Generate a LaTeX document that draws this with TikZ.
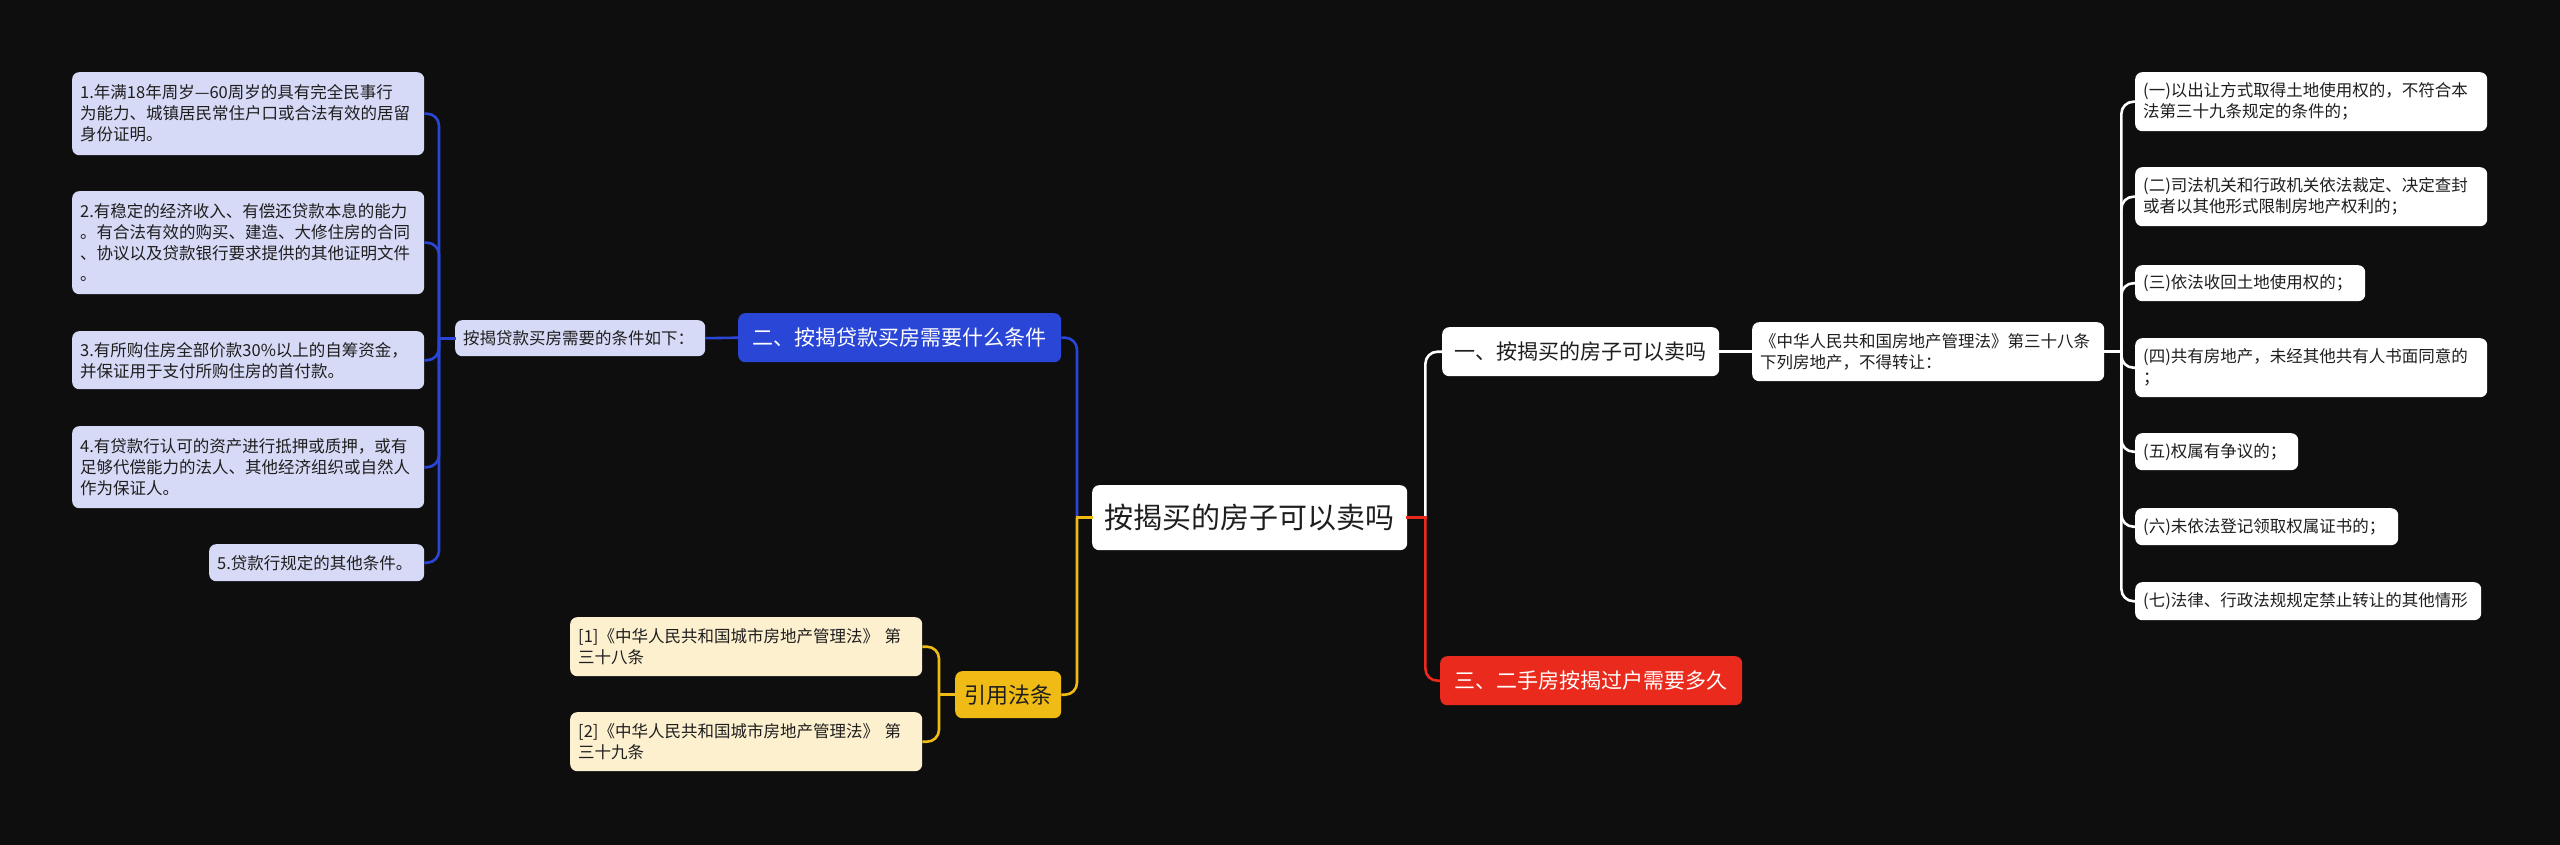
\documentclass[tikz,border=0pt]{standalone}
\usepackage{fontspec}
\usetikzlibrary{calc}
\setmainfont{Noto Sans CJK SC}
\definecolor{bg}{RGB}{14,14,14}
\definecolor{lav}{RGB}{215,218,246}
\definecolor{bluen}{RGB}{42,70,214}
\definecolor{yel}{RGB}{240,187,20}
\definecolor{cream}{RGB}{253,240,207}
\definecolor{redn}{RGB}{234,42,28}
\definecolor{txt}{RGB}{30,30,30}
\tikzset{
  base/.style={rounded corners=7pt, inner ysep=0pt, inner xsep=8pt, anchor=north west, align=left, font=\fontsize{16.5}{21}\selectfont, text=txt},
  lavbox/.style={base, fill=lav},
  creambox/.style={base, fill=cream},
  whitebox/.style={base, fill=white},
  mainbox/.style={rounded corners=7pt, inner sep=0pt, anchor=north west, align=center},
  conn/.style={line width=2.6pt},
  stub/.style={conn, line cap=rect},
  arm/.style={conn, rounded corners=12pt},
  cb/.style={draw=bluen},
  cyl/.style={draw=yel},
  cw/.style={draw=white},
  cr/.style={draw=redn},
}
\begin{document}
\begin{tikzpicture}[x=1pt,y=-1pt]
\fill[bg] (0,0) rectangle (2560,845);
\useasboundingbox (0,0) rectangle (2560,845);

% root
\node[mainbox, fill=white, text=txt, minimum width=315pt, minimum height=65pt, font=\fontsize{29}{34}\selectfont] (root) at (1092,485) {按揭买的房子可以卖吗};

% main branches
\node[mainbox, fill=bluen, text=white, minimum width=323pt, minimum height=49pt, font=\fontsize{21}{25}\selectfont] (blue) at (738,313) {二、按揭贷款买房需要什么条件};
\node[mainbox, fill=yel, text=txt, minimum width=106pt, minimum height=47pt, font=\fontsize{22}{26}\selectfont] (yl) at (955,671) {引用法条};
\node[mainbox, fill=white, text=txt, minimum width=277pt, minimum height=49pt, font=\fontsize{21}{25}\selectfont] (one) at (1442,327) {一、按揭买的房子可以卖吗};
\node[mainbox, fill=redn, text=white, minimum width=302pt, minimum height=49pt, font=\fontsize{21}{25}\selectfont] (three) at (1440,656) {三、二手房按揭过户需要多久};

% left subtree
\node[lavbox, text width=234pt, minimum height=36pt] (mid) at (455,320) {按揭贷款买房需要的条件如下：};
\node[lavbox, text width=336pt, minimum height=83pt] (l1) at (72,72) {1.年满18年周岁—60周岁的具有完全民事行\\为能力、城镇居民常住户口或合法有效的居留\\身份证明。};
\node[lavbox, text width=336pt, minimum height=103pt] (l2) at (72,191) {2.有稳定的经济收入、有偿还贷款本息的能力\\。有合法有效的购买、建造、大修住房的合同\\、协议以及贷款银行要求提供的其他证明文件\\。};
\node[lavbox, text width=336pt, minimum height=58pt] (l3) at (72,331) {3.有所购住房全部价款30\%以上的自筹资金，\\并保证用于支付所购住房的首付款。};
\node[lavbox, text width=336pt, minimum height=82pt] (l4) at (72,426) {4.有贷款行认可的资产进行抵押或质押，或有\\足够代偿能力的法人、其他经济组织或自然人\\作为保证人。};
\node[lavbox, text width=199pt, minimum height=37pt] (l5) at (209,544) {5.贷款行规定的其他条件。};

% references
\node[creambox, text width=336pt, minimum height=59pt] (ref1) at (570,617) {[1]《中华人民共和国城市房地产管理法》 第\\三十八条};
\node[creambox, text width=336pt, minimum height=59pt] (ref2) at (570,712) {[2]《中华人民共和国城市房地产管理法》 第\\三十九条};

% right subtree
\node[whitebox, text width=336pt, minimum height=59pt] (law) at (1752,322) {《中华人民共和国房地产管理法》第三十八条\\下列房地产，不得转让：};
\node[whitebox, text width=336pt, minimum height=59pt] (r1) at (2135,72) {(一)以出让方式取得土地使用权的，不符合本\\法第三十九条规定的条件的；};
\node[whitebox, text width=336pt, minimum height=59pt] (r2) at (2135,167) {(二)司法机关和行政机关依法裁定、决定查封\\或者以其他形式限制房地产权利的；};
\node[whitebox, text width=214pt, minimum height=36pt] (r3) at (2135,265) {(三)依法收回土地使用权的；};
\node[whitebox, text width=336pt, minimum height=59pt] (r4) at (2135,338) {(四)共有房地产，未经其他共有人书面同意的\\；};
\node[whitebox, text width=147pt, minimum height=37pt] (r5) at (2135,433) {(五)权属有争议的；};
\node[whitebox, text width=247pt, minimum height=37pt] (r6) at (2135,508) {(六)未依法登记领取权属证书的；};
\node[whitebox, text width=330pt, minimum height=38pt] (r7) at (2135,582) {(七)法律、行政法规规定禁止转让的其他情形};

% connectors: root trunk
\draw[arm, cb] ($(root.west)+(-15,0)$) |- (blue.east);
\draw[arm, cyl] ($(root.west)+(-15,0)$) |- (yl.east);
\draw[stub, cyl] (root.west) -- ++(-15,0);
\draw[arm, cw] ($(root.east)+(18,0)$) |- (one.west);
\draw[arm, cr] ($(root.east)+(18,0)$) |- (three.west);
\draw[stub, cr] (root.east) -- ++(18,0);

% left subtree
\draw[conn, cb] (blue.west) -- (mid.east);
\foreach \n in {l1,l2,l3,l4,l5}
  \draw[arm, cb] ($(mid.west)+(-16,0)$) |- (\n.east);
\draw[stub, cb] (mid.west) -- ++(-16,0);

% references
\draw[arm, cyl] ($(yl.west)+(-16,0)$) |- (ref1.east);
\draw[arm, cyl] ($(yl.west)+(-16,0)$) |- (ref2.east);
\draw[stub, cyl] (yl.west) -- ++(-16,0);

% right subtree
\draw[conn, cw] (one.east) -- (law.west);
\foreach \n in {r1,r2,r3,r4,r5,r6,r7}
  \draw[arm, cw] ($(law.east)+(17,0)$) |- (\n.west);
\draw[stub, cw] (law.east) -- ++(17,0);
\end{tikzpicture}
\end{document}
